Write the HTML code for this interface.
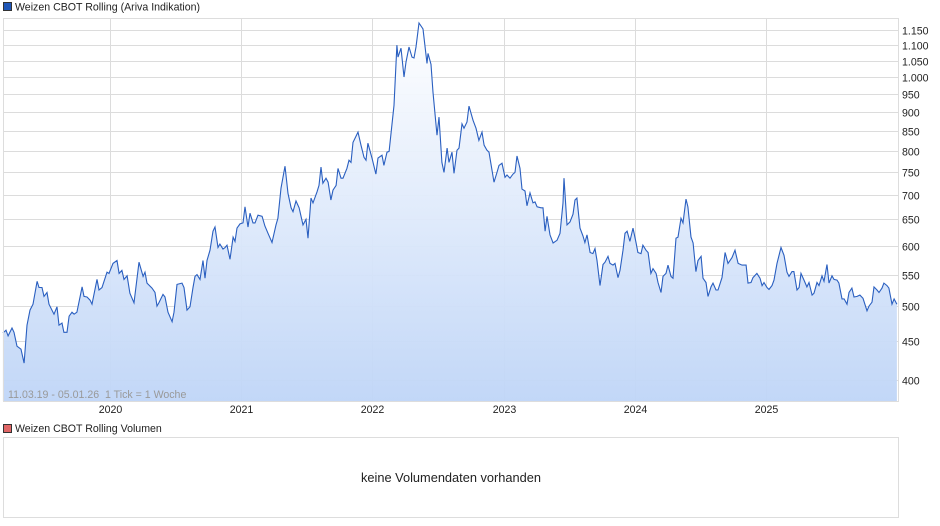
<!DOCTYPE html>
<html><head><meta charset="utf-8"><style>
body{margin:0;background:#fff;width:940px;height:526px;overflow:hidden;font-family:"Liberation Sans",sans-serif}
svg{display:block}
</style></head><body>
<svg id="c" width="940" height="526" xmlns="http://www.w3.org/2000/svg" font-family="Liberation Sans, sans-serif">
<defs><linearGradient id="g" x1="0" y1="0" x2="0" y2="1"><stop offset="0" stop-color="#ffffff"/><stop offset="1" stop-color="#bfd5f7"/></linearGradient></defs>
<rect x="3.5" y="2.5" width="8" height="8" fill="#1f56b7" stroke="#333" stroke-width="1"/>
<text x="15" y="10.5" font-size="10.6" fill="#222">Weizen CBOT Rolling (Ariva Indikation)</text>
<g id="grid"></g>
<text x="448" y="212" font-size="26" font-style="italic" font-weight="bold" fill="#fff" fill-opacity="0.35" text-anchor="middle">ARIVA.DE</text>
<g id="series"></g>
<rect x="3.5" y="18.5" width="895" height="383" fill="none" stroke="#ddd"/>
<text x="8" y="398" font-size="10.6" fill="#999" xml:space="preserve" style="white-space:pre">11.03.19 - 05.01.26  1 Tick = 1 Woche</text>
<g id="yaxis"></g>
<g id="xaxis"></g>
<rect x="3.5" y="424.5" width="8" height="8" fill="#e06666" stroke="#333" stroke-width="1"/>
<text x="15" y="432" font-size="10.6" fill="#222">Weizen CBOT Rolling Volumen</text>
<rect x="3.5" y="437.5" width="895" height="80" fill="#fff" stroke="#ddd"/>
<text x="451" y="482" font-size="12.8" fill="#222" text-anchor="middle">keine Volumendaten vorhanden</text>
</svg>
<script>
const yTicks=[400,450,500,550,600,650,700,750,800,850,900,950,1000,1050,1100,1150];
const yTickLabels=["400","450","500","550","600","650","700","750","800","850","900","950","1.000","1.050","1.100","1.150"];
const xTicks=[2020,2021,2022,2023,2024,2025];
const dates=[2019.184,2019.207,2019.223,2019.253,2019.268,2019.291,2019.322,2019.345,2019.367,2019.390,2019.413,2019.444,2019.459,2019.482,2019.497,2019.520,2019.535,2019.573,2019.596,2019.611,2019.634,2019.649,2019.672,2019.688,2019.710,2019.726,2019.748,2019.787,2019.802,2019.825,2019.848,2019.863,2019.901,2019.916,2019.939,2019.977,2019.992,2020.023,2020.053,2020.069,2020.091,2020.107,2020.130,2020.152,2020.183,2020.221,2020.252,2020.267,2020.282,2020.320,2020.343,2020.358,2020.373,2020.404,2020.419,2020.442,2020.473,2020.488,2020.511,2020.549,2020.564,2020.587,2020.610,2020.633,2020.648,2020.663,2020.686,2020.709,2020.724,2020.739,2020.762,2020.785,2020.800,2020.823,2020.838,2020.861,2020.877,2020.892,2020.915,2020.938,2020.953,2020.968,2020.991,2021.014,2021.029,2021.052,2021.067,2021.090,2021.105,2021.128,2021.159,2021.181,2021.204,2021.235,2021.265,2021.280,2021.303,2021.334,2021.357,2021.380,2021.395,2021.418,2021.441,2021.471,2021.494,2021.509,2021.532,2021.547,2021.578,2021.593,2021.608,2021.623,2021.646,2021.662,2021.684,2021.700,2021.723,2021.738,2021.761,2021.776,2021.806,2021.822,2021.837,2021.852,2021.890,2021.913,2021.936,2021.951,2021.966,2021.997,2022.027,2022.043,2022.073,2022.088,2022.111,2022.127,2022.149,2022.165,2022.187,2022.195,2022.218,2022.241,2022.256,2022.279,2022.302,2022.317,2022.332,2022.355,2022.386,2022.416,2022.424,2022.447,2022.462,2022.492,2022.508,2022.530,2022.546,2022.569,2022.584,2022.607,2022.622,2022.645,2022.660,2022.683,2022.698,2022.721,2022.736,2022.767,2022.790,2022.812,2022.835,2022.851,2022.873,2022.889,2022.927,2022.950,2022.965,2022.988,2023.011,2023.026,2023.049,2023.072,2023.087,2023.102,2023.125,2023.140,2023.163,2023.178,2023.201,2023.224,2023.239,2023.255,2023.285,2023.300,2023.316,2023.331,2023.354,2023.377,2023.407,2023.430,2023.453,2023.460,2023.483,2023.506,2023.529,2023.544,2023.559,2023.582,2023.605,2023.620,2023.636,2023.659,2023.681,2023.697,2023.712,2023.735,2023.758,2023.773,2023.796,2023.811,2023.834,2023.849,2023.872,2023.887,2023.910,2023.925,2023.941,2023.963,2023.986,2024.009,2024.024,2024.047,2024.062,2024.085,2024.101,2024.123,2024.139,2024.162,2024.177,2024.200,2024.215,2024.238,2024.253,2024.276,2024.291,2024.314,2024.329,2024.352,2024.367,2024.390,2024.405,2024.428,2024.444,2024.466,2024.482,2024.505,2024.520,2024.543,2024.558,2024.581,2024.596,2024.619,2024.634,2024.665,2024.688,2024.710,2024.741,2024.764,2024.787,2024.817,2024.848,2024.863,2024.886,2024.901,2024.931,2024.954,2024.970,2024.985,2025.008,2025.023,2025.046,2025.061,2025.084,2025.114,2025.137,2025.160,2025.175,2025.198,2025.213,2025.236,2025.252,2025.267,2025.290,2025.312,2025.328,2025.351,2025.366,2025.389,2025.404,2025.427,2025.442,2025.465,2025.480,2025.503,2025.518,2025.541,2025.556,2025.579,2025.595,2025.617,2025.633,2025.655,2025.671,2025.694,2025.716,2025.739,2025.770,2025.785,2025.808,2025.823,2025.846,2025.861,2025.884,2025.899,2025.922,2025.937,2025.960,2025.976,2025.998];
const prices=[461,465,457,468,462,443,439,421,472,494,503,539,529,529,515,521,503,488,499,472,475,462,462,485,491,488,491,530,515,514,509,503,542,525,529,554,552,569,574,552,557,542,548,520,505,571,547,554,536,528,521,500,505,518,514,491,477,491,534,536,529,494,499,529,547,550,542,574,544,574,592,627,635,597,603,594,597,601,576,616,608,633,641,643,675,635,662,643,643,658,656,637,623,606,639,652,714,763,703,673,665,687,673,639,650,614,693,683,706,720,761,725,736,727,689,710,720,758,736,736,758,777,772,820,846,813,784,777,818,782,745,782,789,765,796,798,864,917,1100,1061,1090,999,1045,1094,1061,1058,1094,1176,1155,1041,1073,1038,954,838,885,772,749,806,772,796,747,801,806,867,856,872,915,877,856,825,846,813,801,796,727,749,765,770,738,743,736,745,749,787,758,712,708,677,704,683,685,675,673,673,627,656,620,605,610,623,683,736,639,645,660,689,693,633,618,606,620,588,586,595,574,532,567,571,581,569,566,569,545,557,592,623,627,608,633,606,588,586,601,592,588,552,560,552,537,521,547,552,566,547,544,614,616,652,643,691,675,616,605,555,574,581,544,537,515,530,536,525,525,545,588,569,579,592,569,566,566,536,537,545,552,544,532,537,529,526,532,541,569,597,583,554,547,555,555,525,529,552,541,530,537,517,520,537,532,548,539,567,536,548,542,541,536,511,511,503,521,528,514,515,517,512,493,500,506,530,525,521,528,536,532,528,503,511,503];

const NS="http://www.w3.org/2000/svg";
const L=3,R=898,T=18,B=401;
function xs(t){return 110+(t-2020)*131.2;}
function ys(v){return 380-331*Math.log(v/400);}
function mk(tag,attrs,parent){const e=document.createElementNS(NS,tag);for(const k in attrs)e.setAttribute(k,attrs[k]);parent.appendChild(e);return e;}
const grid=document.getElementById('grid'),yaxis=document.getElementById('yaxis'),xaxis=document.getElementById('xaxis'),series=document.getElementById('series');
yTicks.forEach((v,i)=>{
  const y=Math.round(ys(v))+0.5;
  const ln=mk('line',{x1:L,x2:R,y1:y,y2:y,stroke:'#dcdcdc','stroke-width':1},grid);
  
  
  const tx=mk('text',{x:902,y:y+4,'font-size':10.6,fill:'#222'},yaxis);
  tx.textContent=yTickLabels[i];
  
  
});
xTicks.forEach(t=>{
  const x=Math.round(xs(t))+0.5;
  const ln=mk('line',{x1:x,x2:x,y1:T,y2:B,stroke:'#dcdcdc','stroke-width':1},grid);
  
  
  const tx=mk('text',{x:x,y:413,'font-size':10.6,fill:'#222','text-anchor':'middle'},xaxis);
  tx.textContent=String(t);
  
  
});
let d='';
dates.forEach((t,i)=>{d+=(i?'L':'M')+xs(t).toFixed(1)+','+ys(prices[i]).toFixed(1);});
const area=mk('path',{d:d+'L'+xs(dates[dates.length-1]).toFixed(1)+','+B+'L'+xs(dates[0]).toFixed(1)+','+B+'Z',fill:'url(#g)',opacity:0.95},series);


const line=mk('path',{d:d,fill:'none',stroke:'#2a5fc0','stroke-width':1.1},series);


</script>
</body></html>
